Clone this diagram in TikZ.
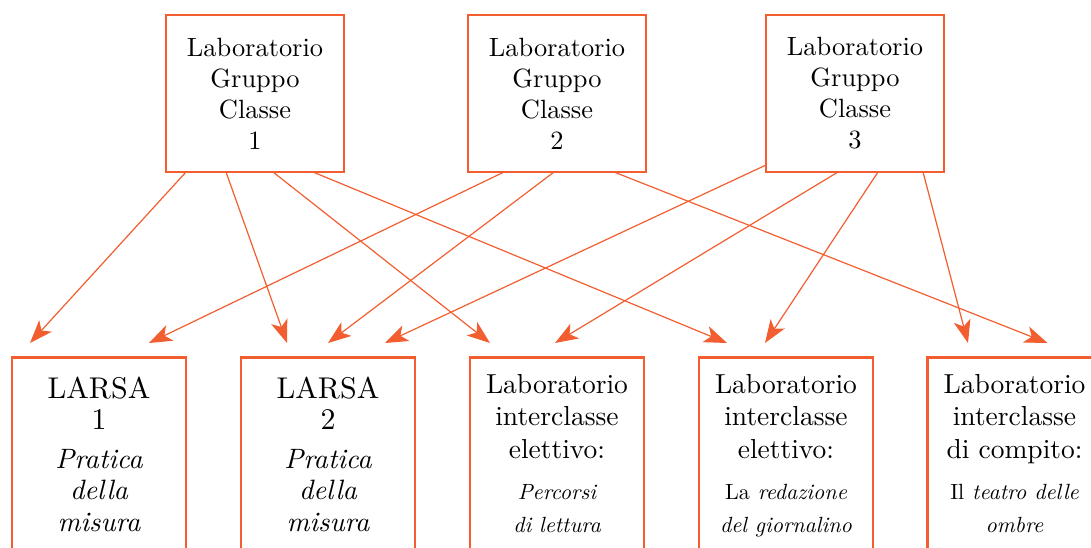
\documentclass[tikz,border=0pt]{standalone}
\usepackage{fontspec}
\setmainfont{lmroman10-regular.otf}[ItalicFont=lmroman10-italic.otf]
\usetikzlibrary{arrows.meta}
\definecolor{lineor}{RGB}{242,94,48}
\tikzset{
  topbox/.style={draw=lineor, line width=2.8pt, outer sep=0pt, minimum width=178pt, minimum height=157pt, inner sep=0pt, align=center, font=\fontsize{26.4}{31}\selectfont},
  botbox/.style={draw=lineor, line width=2.6pt, outer sep=0pt, anchor=north west, inner sep=0pt},
  conn/.style={draw=lineor, line width=1.2pt, -{Stealth[length=23pt,width=17pt,inset=6pt]}},
}
\newcommand{\larsabox}[1]{\parbox[b][240pt][t]{174pt}{\centering\vspace*{19.5pt}{\fontsize{30}{31}\selectfont LARSA\\#1\par}\vspace{7.5pt}{\fontsize{28}{31.5}\selectfont\itshape Pratica\\della\\misura\par}}}
\newcommand{\interbox}[3]{\parbox[b][240pt][t]{174pt}{\centering\vspace*{16.5pt}{\fontsize{27.5}{32.5}\selectfont Laboratorio\\interclasse\\#1\par}\vspace{8pt}{\fontsize{22}{33}\selectfont\itshape #2\\#3\par}}}
\begin{document}
\begin{tikzpicture}[x=1pt,y=-1pt]
\useasboundingbox (0,0) rectangle (1091,547);
\clip (0,0) rectangle (1091,547);
\node[topbox] (g1) at (255,93.5) {Laboratorio\\Gruppo\\Classe\\1};
\node[topbox] (g2) at (557,93.5) {Laboratorio\\Gruppo\\Classe\\2};
\node[topbox] (g3) at (855,93.5) {Laboratorio\\Gruppo\\Classe\\3};
\node[botbox] (l1) at (12,357.5) {\larsabox{1}};
\node[botbox] (l2) at (241,357.5) {\larsabox{2}};
\node[botbox] (i1) at (470,357.5) {\interbox{elettivo:}{Percorsi}{di lettura}};
\node[botbox] (i2) at (699,357.5) {\interbox{elettivo:}{\textup{La} redazione}{del giornalino}};
\node[botbox] (i3) at (927.5,357.5) {\interbox{di compito:}{\textup{Il} teatro delle}{ombre}};
% from group 1
\draw[conn] ([xshift=20pt]g1.south west) -- ([xshift=18pt,yshift=14.5pt]l1.north west);
\draw[conn] ([xshift=60pt]g1.south west) -- ([xshift=46pt,yshift=14.5pt]l2.north west);
\draw[conn] ([xshift=107pt]g1.south west) -- ([xshift=20pt,yshift=14.5pt]i1.north west);
\draw[conn] ([xshift=147pt]g1.south west) -- ([xshift=28pt,yshift=14.5pt]i2.north west);
% from group 2
\draw[conn] ([xshift=36pt]g2.south west) -- ([xshift=137pt,yshift=14.5pt]l1.north west);
\draw[conn] ([xshift=86pt]g2.south west) -- ([xshift=87pt,yshift=14.5pt]l2.north west);
\draw[conn] ([xshift=146pt]g2.south west) -- ([xshift=120pt,yshift=14.5pt]i3.north west);
% from group 3
\draw[conn] ([yshift=7pt]g3.south west) -- ([xshift=144pt,yshift=14.5pt]l2.north west);
\draw[conn] ([xshift=72pt]g3.south west) -- ([xshift=85pt,yshift=14.5pt]i1.north west);
\draw[conn] ([xshift=112pt]g3.south west) -- ([xshift=66pt,yshift=14.5pt]i2.north west);
\draw[conn] ([xshift=157pt]g3.south west) -- ([xshift=40.5pt,yshift=14.5pt]i3.north west);
\end{tikzpicture}
\end{document}
